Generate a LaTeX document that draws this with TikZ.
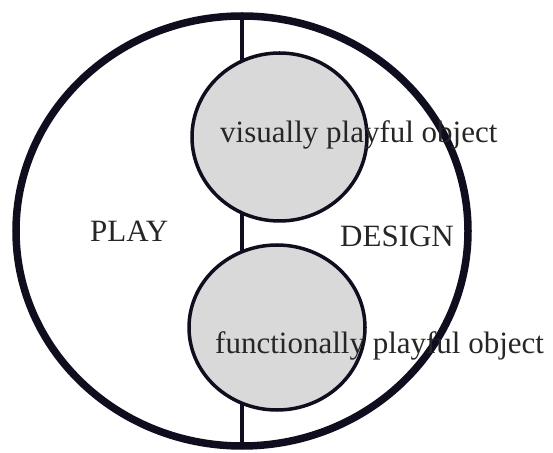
\documentclass[tikz,border=0pt]{standalone}
\usepackage{fontspec}
\setmainfont{Liberation Serif}
\usetikzlibrary{shapes.geometric}
\definecolor{inkc}{HTML}{0E0E1E}
\definecolor{greyfill}{HTML}{D9D9D9}
\tikzstyle{ring}=[ellipse,draw=inkc,line width=7.5pt,fill=none,inner sep=0pt,outer sep=0pt,minimum width=452pt,minimum height=430pt]
\tikzstyle{bubble}=[ellipse,draw=inkc,line width=3.5pt,fill=greyfill,inner sep=0pt,outer sep=0pt]
\tikzstyle{divider}=[draw=inkc,line width=3.5pt]
\tikzstyle{caption}=[anchor=base west,inner sep=0pt,text=black!85,font=\fontsize{31}{36}\selectfont]

\begin{document}
\begin{tikzpicture}[x=1pt,y=1pt]
  \useasboundingbox (0,0) rectangle (553,452);
  \node[ring] (whole) at (242,221) {};
  \path[divider] (whole.north) -- (whole.south);
  \node[bubble,minimum width=175pt,minimum height=168pt] (visual) at (279.5,315) {};
  \node[bubble,minimum width=176pt,minimum height=165pt] (functional) at (277,124.5) {};
  \node[caption] (visualtext) at (220,309) {visually playful object};
  \node[caption] (functext) at (215,99) {functionally playful object};
  \node[caption] (play) at (90,210) {PLAY};
  \node[caption] (design) at (340,205) {DESIGN};
\end{tikzpicture}
\end{document}
